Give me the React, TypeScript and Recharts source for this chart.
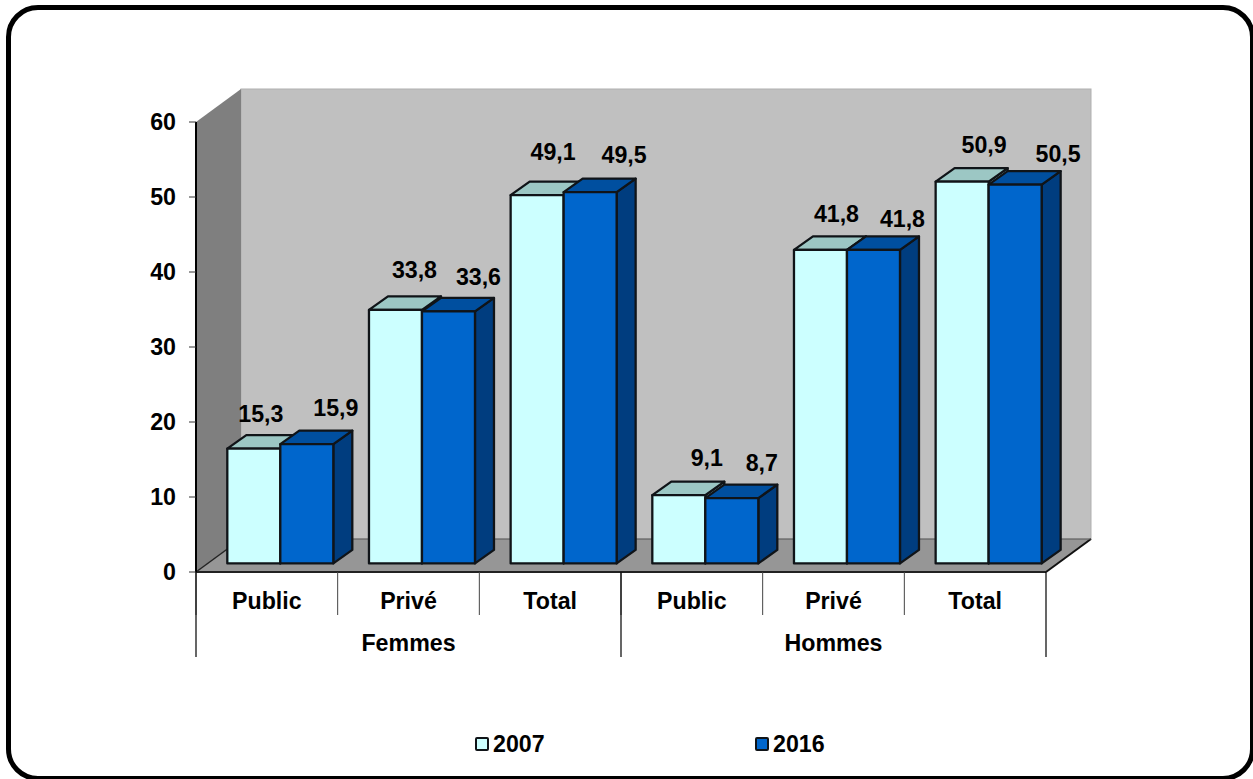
import React from "react";
import { BarChart, Bar, XAxis, YAxis, Legend, LabelList, ReferenceArea } from "recharts";

// Employment shares by sector and sex, 2007 and 2016
const sectors = ["Public", "Privé", "Total", "Public", "Privé", "Total"];
const sexes = ["Femmes", "Femmes", "Femmes", "Hommes", "Hommes", "Hommes"];
const values2007 = [15.3, 33.8, 49.1, 9.1, 41.8, 50.9];
const values2016 = [15.9, 33.6, 49.5, 8.7, 41.8, 50.5];
const yTicks = [0, 10, 20, 30, 40, 50, 60];

const rows = sectors.map((sector, i) => ({
  sector,
  sex: sexes[i],
  y2007: values2007[i],
  y2016: values2016[i],
}));

// Layout of the pseudo-3D scene
const W = 1253;
const H = 779;
const PLOT_LEFT = 196;
const PLOT_RIGHT = 1046;
const PLOT_TOP = 122;
const PLOT_BOTTOM = 572;
const PLOT_W = PLOT_RIGHT - PLOT_LEFT;
const ROOM_DX = 45; // depth of the room
const ROOM_DY = -33;
const BAR_DX = 19; // depth of one bar
const BAR_DY = -13.5;
const BAR_SHIFT_X = 13.6; // bars stand in the middle of the floor
const BAR_SHIFT_Y = -8.6;

const FONT = "'Liberation Sans', Arial, sans-serif";
const FONT_SIZE = 23.2;

// Hand-placed label nudges from bar centre / bar top, as placed in the original layout
const labelNudge2007 = [
  [7, -35], [19, -40], [16, -43], [28, -37], [16, -36], [22, -37],
];
const labelNudge2016 = [
  [29, -36], [30, -34], [34, -37], [30, -35], [29, -31], [43, -31],
];

const pts = (list: number[][]) => list.map((p) => p.join(",")).join(" ");

// Back wall, side wall and floor of the chart room
function Room(props: any) {
  const { x, y, width, height } = props;
  const r = x + width;
  const b = y + height;
  return (
    <g>
      <rect x={x + ROOM_DX} y={y + ROOM_DY} width={width} height={height} fill="#c0c0c0" stroke="#b0b0b0" />
      <polygon
        points={pts([[x, y], [x + ROOM_DX, y + ROOM_DY], [x + ROOM_DX, b + ROOM_DY], [x, b]])}
        fill="#7f7f7f"
      />
      <polygon
        points={pts([[x, b], [x + ROOM_DX, b + ROOM_DY], [r + ROOM_DX, b + ROOM_DY], [r, b]])}
        fill="#969696"
      />
      <line x1={x} y1={b} x2={x + ROOM_DX} y2={b + ROOM_DY} stroke="#222" strokeWidth={1.5} />
      <line x1={r} y1={b} x2={r + ROOM_DX} y2={b + ROOM_DY} stroke="#111" strokeWidth={2} />
      <line x1={x + ROOM_DX} y1={b + ROOM_DY} x2={r + ROOM_DX} y2={b + ROOM_DY} stroke="#555" strokeWidth={1} />
    </g>
  );
}

function makeBox(front: string, top: string, side: string) {
  return function Box(props: any) {
    const x = props.x + BAR_SHIFT_X;
    const y = props.y + BAR_SHIFT_Y;
    const w = props.width;
    const b = y + props.height;
    const r = x + w;
    const edge = { stroke: "#101418", strokeWidth: 2.3, strokeLinejoin: "round" as const };
    return (
      <g>
        <polygon
          points={pts([[r, y], [r + BAR_DX, y + BAR_DY], [r + BAR_DX, b + BAR_DY], [r, b]])}
          fill={side}
          {...edge}
        />
        <polygon
          points={pts([[x, y], [x + BAR_DX, y + BAR_DY], [r + BAR_DX, y + BAR_DY], [r, y]])}
          fill={top}
          {...edge}
        />
        <rect x={x} y={y} width={w} height={props.height} fill={front} {...edge} />
      </g>
    );
  };
}

const Box2007 = makeBox("#ccffff", "#9cc7c4", "#8fbaba");
const Box2016 = makeBox("#0066cc", "#004f9f", "#003d7f");

function makeValueLabel(nudges: number[][]) {
  return function ValueLabel(props: any) {
    const { x, y, width, value, index } = props;
    const [dx, dy] = nudges[index];
    return (
      <text
        x={x + width / 2 + BAR_SHIFT_X + dx}
        y={y + BAR_SHIFT_Y + dy}
        textAnchor="middle"
        dominantBaseline="central"
        fontFamily={FONT}
        fontSize={FONT_SIZE}
        fontWeight="bold"
        fill="#000"
      >
        {String(value).replace(".", ",")}
      </text>
    );
  };
}

// Lower-level category: sector name with a divider on its left edge
function SectorTick(props: any) {
  const { x, payload } = props;
  const band = PLOT_W / sectors.length;
  return (
    <g>
      <line x1={x - band / 2} y1={PLOT_BOTTOM} x2={x - band / 2} y2={PLOT_BOTTOM + 43} stroke="#444" strokeWidth={1} />
      <text
        x={x}
        y={PLOT_BOTTOM + 29}
        textAnchor="middle"
        dominantBaseline="central"
        fontFamily={FONT}
        fontSize={FONT_SIZE}
        fontWeight="bold"
        fill="#000"
      >
        {payload.value}
      </text>
    </g>
  );
}

// Upper-level category: sex, spanning three sectors, with long dividers
function SexTick(props: any) {
  const { x, payload, index } = props;
  const band = PLOT_W / 2;
  return (
    <g>
      <line x1={x - band / 2} y1={PLOT_BOTTOM} x2={x - band / 2} y2={PLOT_BOTTOM + 85} stroke="#000" strokeWidth={1.2} />
      {index === 1 && (
        <line x1={x + band / 2} y1={PLOT_BOTTOM} x2={x + band / 2} y2={PLOT_BOTTOM + 85} stroke="#000" strokeWidth={1.2} />
      )}
      <text
        x={x}
        y={PLOT_BOTTOM + 71}
        textAnchor="middle"
        dominantBaseline="central"
        fontFamily={FONT}
        fontSize={FONT_SIZE}
        fontWeight="bold"
        fill="#000"
      >
        {payload.value}
      </text>
    </g>
  );
}

function YearLegend(props: any) {
  const items = props.payload || [];
  return (
    <div style={{ position: "relative", height: 30 }}>
      {items.map((item: any, i: number) => (
        <div
          key={item.value}
          style={{
            position: "absolute",
            left: 475 + i * 280,
            top: 0,
            display: "flex",
            alignItems: "center",
            height: 30,
            fontFamily: FONT,
            fontSize: FONT_SIZE,
            fontWeight: "bold",
            color: "#000",
          }}
        >
          <span
            style={{
              boxSizing: "border-box",
              width: 14,
              height: 14,
              marginRight: 4,
              background: item.color,
              border: "2px solid #101418",
              borderRadius: 2,
            }}
          />
          {item.value}
        </div>
      ))}
    </div>
  );
}

export default function App() {
  return (
    <div style={{ position: "absolute", left: 0, top: 0, width: W, height: H, overflow: "hidden", background: "#fff" }}>
      <div
        style={{
          position: "absolute",
          left: 6,
          top: 5,
          width: 1249,
          height: 776,
          boxSizing: "border-box",
          border: "5px solid #000",
          borderRadius: 32,
        }}
      />
      <BarChart
        width={W}
        height={H}
        data={rows}
        margin={{ top: PLOT_TOP, right: W - PLOT_RIGHT, bottom: H - PLOT_BOTTOM - 85, left: 0 }}
        barCategoryGap="12.5%"
        barGap={0}
        style={{ position: "absolute", left: 0, top: 0 }}
      >
        <ReferenceArea xAxisId="sector" y1={0} y2={60} shape={Room} ifOverflow="visible" />
        <XAxis
          xAxisId="sector"
          dataKey="sector"
          height={42}
          tickLine={false}
          axisLine={{ stroke: "#222", strokeWidth: 2 }}
          tick={SectorTick}
          interval={0}
        />
        <XAxis
          xAxisId="sex"
          dataKey="sex"
          allowDuplicatedCategory={false}
          height={43}
          tickLine={false}
          axisLine={false}
          tick={SexTick}
          interval={0}
        />
        <YAxis
          width={PLOT_LEFT}
          domain={[0, 60]}
          ticks={yTicks}
          interval={0}
          tickSize={7}
          tickMargin={13}
          axisLine={{ stroke: "#000", strokeWidth: 2 }}
          tickLine={{ stroke: "#333", strokeWidth: 1 }}
          tick={{ fontFamily: FONT, fontSize: FONT_SIZE, fontWeight: "bold", fill: "#000" }}
        />
        <Legend
          layout="horizontal"
          verticalAlign="middle"
          align="center"
          wrapperStyle={{ left: 0, top: 729, width: W }}
          content={YearLegend}
        />
        <Bar xAxisId="sector" dataKey="y2007" name="2007" fill="#ccffff" shape={Box2007} isAnimationActive={false}>
          <LabelList dataKey="y2007" content={makeValueLabel(labelNudge2007)} />
        </Bar>
        <Bar xAxisId="sector" dataKey="y2016" name="2016" fill="#0066cc" shape={Box2016} isAnimationActive={false}>
          <LabelList dataKey="y2016" content={makeValueLabel(labelNudge2016)} />
        </Bar>
      </BarChart>
    </div>
  );
}
